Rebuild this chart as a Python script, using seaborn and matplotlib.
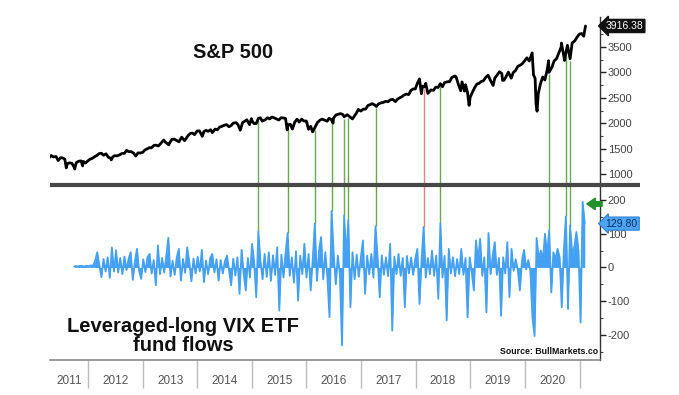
import numpy as np
import pandas as pd
import matplotlib
matplotlib.use("Agg")
import matplotlib.pyplot as plt
import matplotlib.dates as mdates
from matplotlib.lines import Line2D
from matplotlib.ticker import FixedLocator, FixedFormatter, MultipleLocator
import seaborn as sns

# ---------------- data ----------------
sp_dates = [
    '2011-04-15', '2011-04-29', '2011-05-13', '2011-05-31', '2011-06-15', '2011-06-30', '2011-07-15', '2011-07-29',
    '2011-08-08', '2011-08-15', '2011-08-31', '2011-09-15', '2011-09-30', '2011-10-03', '2011-10-14', '2011-10-31',
    '2011-11-15', '2011-11-25', '2011-11-30', '2011-12-15', '2011-12-30',
    '2012-01-13', '2012-01-31', '2012-02-15', '2012-02-29', '2012-03-15', '2012-03-30', '2012-04-13', '2012-04-30',
    '2012-05-15', '2012-05-31', '2012-06-04', '2012-06-15', '2012-06-29', '2012-07-13', '2012-07-31', '2012-08-15',
    '2012-08-31', '2012-09-14', '2012-09-28', '2012-10-15', '2012-10-31', '2012-11-15', '2012-11-30', '2012-12-14',
    '2012-12-31',
    '2013-01-15', '2013-01-31', '2013-02-15', '2013-02-28', '2013-03-15', '2013-03-28', '2013-04-15', '2013-04-30',
    '2013-05-21', '2013-05-31', '2013-06-24', '2013-06-28', '2013-07-15', '2013-07-31', '2013-08-15', '2013-08-30',
    '2013-09-18', '2013-09-30', '2013-10-08', '2013-10-31', '2013-11-15', '2013-11-29', '2013-12-13', '2013-12-31',
    '2014-01-15', '2014-02-03', '2014-02-14', '2014-02-28', '2014-03-14', '2014-03-31', '2014-04-11', '2014-04-30',
    '2014-05-15', '2014-05-30', '2014-06-13', '2014-06-30', '2014-07-15', '2014-07-31', '2014-08-15', '2014-08-29',
    '2014-09-18', '2014-09-30', '2014-10-15', '2014-10-31', '2014-11-14', '2014-11-28', '2014-12-16', '2014-12-29',
    '2014-12-31',
    '2015-01-15', '2015-01-30', '2015-02-13', '2015-02-27', '2015-03-11', '2015-03-31', '2015-04-15', '2015-04-30',
    '2015-05-15', '2015-05-29', '2015-06-15', '2015-06-30', '2015-07-15', '2015-07-31', '2015-08-14', '2015-08-25',
    '2015-08-31', '2015-09-15', '2015-09-29', '2015-10-15', '2015-10-30', '2015-11-13', '2015-11-30', '2015-12-15',
    '2015-12-31',
    '2016-01-15', '2016-01-29', '2016-02-11', '2016-02-29', '2016-03-15', '2016-03-31', '2016-04-15', '2016-04-29',
    '2016-05-19', '2016-05-31', '2016-06-15', '2016-06-27', '2016-06-30', '2016-07-15', '2016-07-29', '2016-08-15',
    '2016-08-31', '2016-09-09', '2016-09-30', '2016-10-14', '2016-11-04', '2016-11-30', '2016-12-13', '2016-12-30',
    '2017-01-13', '2017-01-31', '2017-02-15', '2017-02-28', '2017-03-15', '2017-03-31', '2017-04-13', '2017-04-28',
    '2017-05-15', '2017-05-31', '2017-06-15', '2017-06-30', '2017-07-14', '2017-07-31', '2017-08-18', '2017-08-31',
    '2017-09-15', '2017-09-29', '2017-10-13', '2017-10-31', '2017-11-15', '2017-11-30', '2017-12-15', '2017-12-29',
    '2018-01-12', '2018-01-26', '2018-02-08', '2018-02-15', '2018-02-28', '2018-03-09', '2018-03-23', '2018-04-13',
    '2018-04-30', '2018-05-15', '2018-05-31', '2018-06-15', '2018-06-29', '2018-07-13', '2018-07-31', '2018-08-15',
    '2018-08-31', '2018-09-20', '2018-09-28', '2018-10-15', '2018-10-29', '2018-11-07', '2018-11-23', '2018-11-30',
    '2018-12-14', '2018-12-24', '2018-12-31',
    '2019-01-15', '2019-01-31', '2019-02-15', '2019-02-28', '2019-03-15', '2019-03-29', '2019-04-15', '2019-04-30',
    '2019-05-15', '2019-06-03', '2019-06-14', '2019-06-28', '2019-07-15', '2019-07-31', '2019-08-05', '2019-08-15',
    '2019-08-30', '2019-09-13', '2019-10-02', '2019-10-15', '2019-10-31', '2019-11-15', '2019-11-29', '2019-12-13',
    '2019-12-31',
    '2020-01-15', '2020-01-31', '2020-02-19', '2020-02-28', '2020-03-10', '2020-03-16', '2020-03-23', '2020-03-31',
    '2020-04-15', '2020-04-30', '2020-05-14', '2020-05-29', '2020-06-08', '2020-06-11', '2020-06-30', '2020-07-15',
    '2020-07-31', '2020-08-14', '2020-08-31', '2020-09-02', '2020-09-23', '2020-09-30', '2020-10-12', '2020-10-30',
    '2020-11-13', '2020-11-30', '2020-12-15', '2020-12-31',
    '2021-01-15', '2021-01-29', '2021-02-10',
]
sp_values = [
    1320, 1364, 1337, 1345, 1265, 1321, 1316, 1292, 1119, 1204, 1219, 1209, 1131, 1099, 1224, 1253,
    1257, 1159, 1247, 1216, 1258,
    1289, 1312, 1344, 1366, 1402, 1408, 1370, 1398, 1331, 1310, 1278, 1342, 1362, 1356, 1379, 1405,
    1407, 1465, 1441, 1440, 1412, 1353, 1416, 1413, 1426,
    1472, 1498, 1520, 1515, 1560, 1569, 1552, 1598, 1669, 1631, 1573, 1606, 1682, 1686, 1661, 1633,
    1725, 1682, 1656, 1757, 1798, 1806, 1775, 1848,
    1848, 1742, 1838, 1859, 1841, 1872, 1815, 1884, 1870, 1924, 1937, 1960, 1973, 1931, 1955, 2003,
    2011, 1972, 1862, 2018, 2039, 2068, 1972, 2090, 2059,
    1992, 1995, 2096, 2105, 2040, 2068, 2107, 2086, 2122, 2107, 2084, 2063, 2108, 2104, 2092, 1868,
    1972, 1979, 1884, 2024, 2079, 2023, 2080, 2043, 2044,
    1880, 1940, 1829, 1932, 2016, 2060, 2081, 2065, 2040, 2097, 2072, 2001, 2099, 2161, 2174, 2190,
    2171, 2128, 2168, 2133, 2085, 2199, 2271, 2239,
    2275, 2279, 2349, 2364, 2385, 2363, 2329, 2384, 2402, 2412, 2433, 2423, 2459, 2470, 2426, 2472,
    2500, 2519, 2553, 2575, 2564, 2648, 2676, 2674,
    2786, 2873, 2581, 2731, 2714, 2786, 2588, 2656, 2648, 2711, 2705, 2780, 2718, 2801, 2816, 2818,
    2902, 2931, 2914, 2750, 2641, 2814, 2633, 2760, 2600, 2351, 2507,
    2610, 2704, 2775, 2784, 2822, 2834, 2905, 2946, 2850, 2744, 2887, 2942, 3014, 2980, 2844, 2848,
    2926, 3007, 2887, 2996, 3038, 3120, 3141, 3168, 3231,
    3289, 3226, 3386, 2954, 2882, 2386, 2237, 2585, 2783, 2912, 2852, 3044, 3232, 3002, 3100, 3227,
    3271, 3373, 3500, 3580, 3237, 3363, 3535, 3270, 3585, 3622, 3694, 3756,
    3768, 3714, 3916.38,
]

flow_start = '2011-09-30'   # bi-weekly observations from this date
flow_values = [
    3, 4, 3, 5, 4, 3, 5, 4, 6, 5,
    20, 45, 8, -29, 25, -12, 30, -31, 59, -12,
    51, -15, 28, -20, 32, -8, 26, 45, -37, 18,
    55, -10, -34, 24, -14, 30, 40, -18, 22, -53,
    65, -20, 28, -15, 34, 88, -27, 20, -22, 30,
    55, -39, 25, -16, 60, 15, -41, 26, -18, 32,
    -12, 52, -44, 20, -20, 28, 40, -15, 24, -39,
    22, -18, 18, 35, -10, -53, 26, -24, 30, -78,
    52, -20, -68, 28, -30, 70, 15, -88, 106, 20,
    -35, 40, -28, 45, -40, 36, -22, 60, -128, 38,
    -30, 42, 102, -25, 30, -45, 48, -98, 35, -20,
    70, -30, 40, -68, 25, 130, -40, 50, 90, -35,
    45, -30, -147, 167, 40, -50, 35, -25, -231, 154,
    30, 140, -118, 45, -35, 38, -28, 30, 80, -78,
    35, -20, 40, -30, 122, 28, -88, 36, -22, 30,
    -26, 70, -187, 32, -20, 40, -25, 28, -118, 34,
    -18, 30, -22, 26, 55, -108, 20, 120, -30, 28,
    -20, 50, -25, 35, -93, 130, -30, 34, -157, 55,
    -18, 30, -26, 25, -20, 55, -22, 28, -148, 30,
    -15, -68, 80, 20, 85, -25, 30, -133, 102, -20,
    35, 75, -22, 28, -143, 30, -18, 75, -88, 55,
    -10, 24, -8, -68, 20, 52, -6, 22, -10, -148,
    -203, 87, 25, 50, 22, 100, 35, 110, -74, 45,
    25, 55, 30, -118, 48, 151, -123, 124, 40, 60,
    105, 50, -163, 194, 129.80,
]

# indices (into flow_values) of the marked inflow spikes, and the marker colour
signal_idx = [88, 102, 115, 123, 129, 131, 144, 167, 175, 227, 235, 237]
signal_kind = ['g', 'g', 'g', 'g', 'g', 'g', 'g', 'r', 'g', 'g', 'g', 'g']

year_labels = [2011, 2012, 2013, 2014, 2015, 2016, 2017, 2018, 2019, 2020]
sp_ticks = [1000, 1500, 2000, 2500, 3000, 3500]
flow_ticks = [-200, -100, 0, 100, 200]

title_top = 'S&P 500'
title_bottom = 'Leveraged-long VIX ETF\nfund flows'
source_text = 'Source: BullMarkets.co'

# ---------------- frames ----------------
sp_df = pd.DataFrame({'date': pd.to_datetime(sp_dates), 'value': sp_values})
flow_df = pd.DataFrame({
    'date': pd.date_range(flow_start, periods=len(flow_values), freq='14D'),
    'value': flow_values,
})

# ---------------- style ----------------
sns.set_style('white')
plt.rcParams['font.family'] = ['Liberation Sans', 'DejaVu Sans']

W, H = 679, 395
fig = plt.figure(figsize=(W / 100, H / 100), dpi=100)

def fx(px):
    return px / W

def fy(py):
    return 1 - py / H

L, R = 50, 600
ax1 = fig.add_axes([fx(L), fy(185), fx(R - L), (185 - 17) / H])
ax2 = fig.add_axes([fx(L), fy(360), fx(R - L), (360 - 185) / H])

x_left = pd.Timestamp('2011-04-21')
x_right = pd.Timestamp('2021-05-18')
SP_LIM = (783, 4093)
FL_LIM = (-274, 244)

FLOW_BLUE = '#44a0f2'

# ---------------- top panel ----------------
sns.lineplot(data=sp_df, x='date', y='value', ax=ax1, color='black', linewidth=2.0, zorder=5)
ax1.set_xlim(x_left, x_right)
ax1.set_ylim(*SP_LIM)

# ---------------- bottom panel ----------------
ax2.fill_between(flow_df['date'], flow_df['value'], 0, color=FLOW_BLUE, linewidth=0, zorder=4)
sns.lineplot(data=flow_df, x='date', y='value', ax=ax2, color=FLOW_BLUE, linewidth=1.3, zorder=5)
ax2.set_xlim(x_left, x_right)
ax2.set_ylim(*FL_LIM)

# signal connectors (from S&P line down to the flow spike)
sp_num = mdates.date2num(sp_df['date'])
kind_color = {'g': '#6aa84f', 'r': '#e8807a'}
for idx, k in zip(signal_idx, signal_kind):
    d = flow_df['date'].iloc[idx]
    v = flow_df['value'].iloc[idx]
    sp_at = np.interp(mdates.date2num(d), sp_num, sp_df['value'])
    c = kind_color[k]
    ax1.vlines(d, SP_LIM[0], sp_at - 40, color=c, linewidth=1.0, zorder=2)
    ax2.vlines(d, v, FL_LIM[1], color=c, linewidth=1.0, zorder=2)

# ---------------- axes styling ----------------
label_font = ['Liberation Sans Narrow', 'Liberation Sans', 'DejaVu Sans']
for ax in (ax1, ax2):
    ax.set_xlabel('')
    ax.set_ylabel('')
    for s in ('left', 'top'):
        ax.spines[s].set_visible(False)
    ax.spines['right'].set_color('#333333')
    ax.spines['right'].set_linewidth(1.0)
    ax.yaxis.tick_right()
    ax.tick_params(axis='y', which='both', right=True, left=False)
    ax.tick_params(axis='y', which='major', direction='out', length=4, width=1.0,
                   color='#222222', labelcolor='#444444', labelsize=8, pad=1.5)
    ax.tick_params(axis='y', which='minor', direction='out', length=2, width=0.8, color='#444444')

ax1.spines['bottom'].set_visible(False)
ax1.set_yticks(sp_ticks)
ax1.set_yticklabels([str(t) for t in sp_ticks], family=label_font)
ax1.yaxis.set_minor_locator(MultipleLocator(250))
ax1.tick_params(axis='x', which='both', bottom=False, labelbottom=False)

ax2.spines['bottom'].set_color('#8a8a8a')
ax2.spines['bottom'].set_linewidth(1.2)
ax2.set_yticks(flow_ticks)
ax2.set_yticklabels([str(t) for t in flow_ticks], family=label_font)
ax2.yaxis.set_minor_locator(MultipleLocator(50))

# year axis: long light dividers at year starts, labels centred in each year
ax2.xaxis.set_major_locator(mdates.YearLocator())
ax2.tick_params(axis='x', which='major', bottom=True, direction='out', length=20, width=1.0,
                color='#bdbdbd', labelbottom=False)
label_pos = []
for y in year_labels:
    a = max(pd.Timestamp(f'{y}-01-01'), x_left)
    b = pd.Timestamp(f'{y + 1}-01-01')
    label_pos.append(mdates.date2num(a + (b - a) / 2))
ax2.xaxis.set_minor_locator(FixedLocator(label_pos))
ax2.xaxis.set_minor_formatter(FixedFormatter([str(y) for y in year_labels]))
ax2.tick_params(axis='x', which='minor', bottom=True, length=0, pad=11, labelsize=8.5,
                labelcolor='#555555', labelbottom=True)
for lab in ax2.xaxis.get_minorticklabels():
    lab.set_family(label_font)

# thick separator between the panels
fig.add_artist(Line2D([fx(L), fx(640)], [fy(185), fy(185)], color='#474747',
                      linewidth=3.0, solid_capstyle='butt', transform=fig.transFigure, zorder=10))

# last-value tags on the right axis
ax1.annotate(f'{sp_values[-1]:.2f}', xy=(1.0, sp_values[-1]), xycoords=('axes fraction', 'data'),
             xytext=(4, 0), textcoords='offset points', ha='left', va='center',
             fontsize=7.5, color='white', family=label_font,
             bbox=dict(boxstyle='larrow,pad=0.15', fc='#111111', ec='#111111'),
             annotation_clip=False)
ax2.annotate(f'{flow_values[-1]:.2f}', xy=(1.0, flow_values[-1]), xycoords=('axes fraction', 'data'),
             xytext=(4, 0), textcoords='offset points', ha='left', va='center',
             fontsize=7.5, color='#0b2e5c', family=label_font,
             bbox=dict(boxstyle='larrow,pad=0.15', fc='#4aa6f5', ec='#2f7fcf', lw=0.8),
             annotation_clip=False)

# green pointer at the latest spike
peak_i = int(np.argmax(flow_values))
ax2.annotate('', xy=(flow_df['date'].iloc[peak_i], flow_values[peak_i] - 6), xycoords='data',
             xytext=(14, 0), textcoords='offset points',
             arrowprops=dict(arrowstyle='simple,head_length=0.55,head_width=0.75,tail_width=0.3',
                             color='#23912a', shrinkA=0, shrinkB=3, mutation_scale=11),
             annotation_clip=False, zorder=12)

# titles and source
fig.text(fx(233), fy(52), title_top, ha='center', va='center', fontsize=14.5, fontweight='bold', color='#111111')
fig.text(fx(183), fy(336), title_bottom, ha='center', va='center', fontsize=14.5, fontweight='bold',
         color='#111111', linespacing=1.05)
ax2.text(0.997, 0.02, source_text, transform=ax2.transAxes, ha='right', va='bottom',
         fontsize=6.3, fontweight='bold', color='#111111')

fig.savefig('out.png', dpi=100)
